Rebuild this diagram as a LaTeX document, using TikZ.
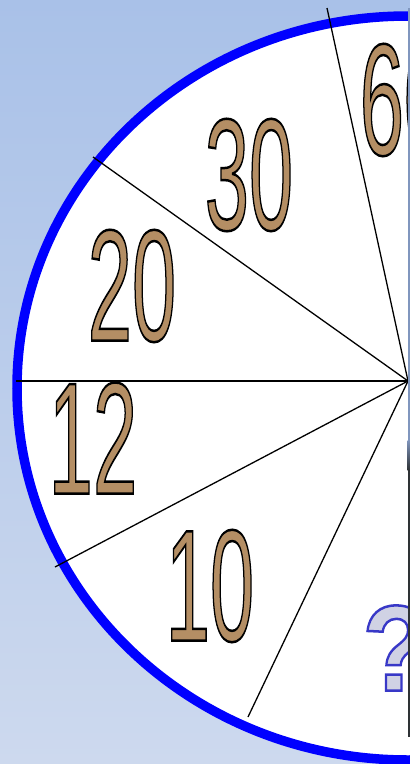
\documentclass[tikz,border=0pt]{standalone}
\usepackage{fontspec}
\setmainfont{Liberation Sans}
\definecolor{sky}{RGB}{169,193,232}
\definecolor{skylow}{RGB}{205,217,238}
\definecolor{cork}{RGB}{180,142,100}
\definecolor{mist}{RGB}{208,210,228}
\definecolor{rim}{RGB}{128,150,190}
\definecolor{rimdark}{RGB}{46,50,53}
% outlined text: fill with the current colour, stroke set by hand
\newcommand{\corkdigits}[1]{{\color{cork}\special{pdf:literal direct 2 Tr 2.5 w 0 0 0 RG}#1\special{pdf:literal direct 0 Tr}}}
\newcommand{\mistmark}[1]{{\color{mist}\special{pdf:literal direct 2 Tr 2.5 w 0.22 0.22 0.78 RG}#1\special{pdf:literal direct 0 Tr}}}
\begin{document}
\begin{tikzpicture}[x=1pt,y=-1pt,
  spoke/.style={line width=1.3pt,black},
  numeral/.style={inner sep=0pt,xscale=0.5,font=\fontsize{159}{159}\selectfont},
  query/.style={inner sep=0pt,xscale=0.9,font=\fontsize{122}{122}\selectfont\bfseries}]
  \useasboundingbox (0,0) rectangle (410,764);
  \shade[top color=sky,bottom color=skylow] (0,0) rectangle (410,764);
  \begin{scope}
    \clip (0,0) rectangle (410,764);
    % wheel
    \draw[blue,fill=white,line width=9.5pt] (408,388) ellipse [x radius=391pt,y radius=372pt];
    \coordinate (hub) at (408,381);
    \coordinate (r1) at (327,8);
    \coordinate (r2) at (93,157);
    \coordinate (r3) at (16,381);
    \coordinate (r4) at (55,567);
    \coordinate (r5) at (248,717);
    \draw[spoke] (hub) -- (r1);
    \draw[spoke] (hub) -- (r2);
    \draw[spoke] (hub) -- (r3);
    \draw[spoke] (hub) -- (r4);
    \draw[spoke] (hub) -- (r5);
    % numbers
    \node[numeral] (n30) at (249,175) {\corkdigits{30}};
    \node[numeral] (n20) at (132,286) {\corkdigits{20}};
    \node[numeral] (n12) at (93,438) {\corkdigits{12}};
    \node[numeral] (n10) at (210,586) {\corkdigits{10}};
    \node[numeral] (n60) at (404,100) {\corkdigits{60}};
    \node[query] (ask) at (396,648) {\mistmark{?}};
    % edge strip
    \fill[rim] (407.5,8) rectangle (410,455);
    \shade[top color=rim,bottom color=rimdark] (407.5,440) rectangle (410,470);
    \fill[rimdark] (407.5,470) rectangle (410,737);
  \end{scope}
\end{tikzpicture}
\end{document}
